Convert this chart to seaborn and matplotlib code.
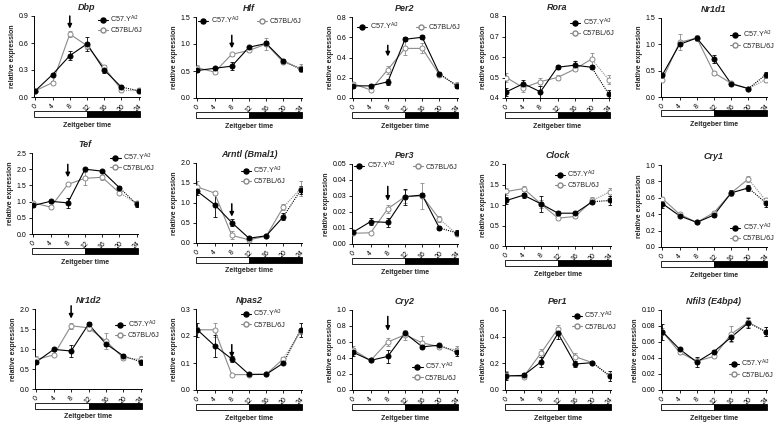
import numpy as np
import pandas as pd
import matplotlib
matplotlib.use("Agg")
import matplotlib.pyplot as plt
from matplotlib.lines import Line2D
from matplotlib.patches import Rectangle
import seaborn as sns

# ---------------- data ----------------
zt_labels = ["0", "4", "8", "12", "16", "20", "24"]
strains = ["C57.Y$^{\\mathregular{A/J}}$", "C57BL/6J"]
genes = ["Dbp", "Hlf", "Per2", "Rora", "Nr1d1",
         "Tef", "Arntl (Bmal1)", "Per3", "Clock", "Cry1",
         "Nr1d2", "Npas2", "Cry2", "Per1", "Nfil3 (E4bp4)"]

dbp_y = [0.07, 0.25, 0.46, 0.59, 0.30, 0.11, 0.07]
dbp_y_err = [0.01, 0.02, 0.05, 0.08, 0.03, 0.02, 0.01]
dbp_b = [0.07, 0.16, 0.70, 0.57, 0.33, 0.08, 0.08]
dbp_b_err = [0.01, 0.02, 0.03, 0.04, 0.03, 0.02, 0.02]

hlf_y = [0.51, 0.55, 0.59, 0.94, 1.01, 0.69, 0.53]
hlf_y_err = [0.03, 0.03, 0.08, 0.03, 0.05, 0.03, 0.03]
hlf_b = [0.56, 0.48, 0.81, 0.88, 1.00, 0.66, 0.56]
hlf_b_err = [0.06, 0.03, 0.03, 0.03, 0.12, 0.03, 0.07]

per2_y = [0.12, 0.12, 0.16, 0.58, 0.60, 0.24, 0.12]
per2_y_err = [0.02, 0.02, 0.03, 0.02, 0.02, 0.02, 0.02]
per2_b = [0.14, 0.08, 0.28, 0.49, 0.49, 0.23, 0.13]
per2_b_err = [0.02, 0.02, 0.04, 0.07, 0.05, 0.02, 0.03]

rora_y = [0.43, 0.47, 0.43, 0.55, 0.56, 0.55, 0.42]
rora_y_err = [0.02, 0.02, 0.03, 0.01, 0.02, 0.01, 0.02]
rora_b = [0.50, 0.45, 0.48, 0.50, 0.54, 0.59, 0.49]
rora_b_err = [0.02, 0.02, 0.02, 0.01, 0.01, 0.03, 0.02]

nr1d1_y = [0.42, 1.00, 1.12, 0.72, 0.25, 0.16, 0.42]
nr1d1_y_err = [0.04, 0.04, 0.04, 0.07, 0.02, 0.01, 0.05]
nr1d1_b = [0.33, 1.04, 1.12, 0.46, 0.26, 0.16, 0.33]
nr1d1_b_err = [0.02, 0.15, 0.05, 0.04, 0.02, 0.01, 0.04]

tef_y = [0.88, 1.01, 0.96, 2.00, 1.94, 1.43, 0.92]
tef_y_err = [0.05, 0.04, 0.15, 0.04, 0.04, 0.05, 0.10]
tef_b = [0.96, 0.83, 1.53, 1.72, 1.75, 1.27, 0.95]
tef_b_err = [0.04, 0.05, 0.04, 0.20, 0.08, 0.05, 0.05]

arntl_y = [1.29, 0.96, 0.51, 0.12, 0.18, 0.66, 1.32]
arntl_y_err = [0.08, 0.30, 0.08, 0.03, 0.03, 0.08, 0.10]
arntl_b = [1.40, 1.25, 0.19, 0.08, 0.17, 0.90, 1.36]
arntl_b_err = [0.15, 0.05, 0.10, 0.02, 0.03, 0.08, 0.18]

per3_y = [0.0075, 0.014, 0.0135, 0.0296, 0.0306, 0.010, 0.007]
per3_y_err = [0.001, 0.002, 0.003, 0.005, 0.001, 0.001, 0.0015]
per3_b = [0.0067, 0.007, 0.022, 0.0296, 0.030, 0.0156, 0.0063]
per3_b_err = [0.0005, 0.0005, 0.0025, 0.004, 0.008, 0.002, 0.001]

clock_y = [1.11, 1.24, 1.03, 0.80, 0.80, 1.08, 1.11]
clock_y_err = [0.08, 0.06, 0.20, 0.05, 0.05, 0.04, 0.10]
clock_b = [1.33, 1.40, 1.03, 0.68, 0.72, 1.11, 1.32]
clock_b_err = [0.08, 0.07, 0.10, 0.02, 0.03, 0.08, 0.09]

cry1_y = [0.53, 0.38, 0.30, 0.39, 0.66, 0.72, 0.54]
cry1_y_err = [0.05, 0.02, 0.01, 0.02, 0.03, 0.04, 0.05]
cry1_b = [0.59, 0.40, 0.30, 0.42, 0.66, 0.83, 0.57]
cry1_b_err = [0.02, 0.02, 0.01, 0.02, 0.04, 0.04, 0.03]

nr1d2_y = [0.68, 0.99, 0.95, 1.62, 1.13, 0.83, 0.68]
nr1d2_y_err = [0.06, 0.03, 0.15, 0.05, 0.05, 0.05, 0.07]
nr1d2_b = [0.74, 0.85, 1.58, 1.53, 1.20, 0.78, 0.74]
nr1d2_b_err = [0.08, 0.03, 0.08, 0.08, 0.20, 0.05, 0.08]

npas2_y = [0.223, 0.164, 0.115, 0.058, 0.058, 0.100, 0.223]
npas2_y_err = [0.025, 0.040, 0.010, 0.004, 0.004, 0.005, 0.025]
npas2_b = [0.223, 0.223, 0.057, 0.057, 0.058, 0.116, 0.217]
npas2_b_err = [0.010, 0.025, 0.003, 0.003, 0.004, 0.005, 0.010]

cry2_y = [0.47, 0.37, 0.42, 0.71, 0.54, 0.56, 0.47]
cry2_y_err = [0.05, 0.02, 0.08, 0.03, 0.02, 0.02, 0.05]
cry2_b = [0.50, 0.37, 0.60, 0.69, 0.59, 0.54, 0.50]
cry2_b_err = [0.05, 0.02, 0.05, 0.06, 0.08, 0.03, 0.05]

per1_y = [0.105, 0.110, 0.210, 0.425, 0.195, 0.205, 0.105]
per1_y_err = [0.03, 0.02, 0.04, 0.04, 0.02, 0.01, 0.035]
per1_b = [0.110, 0.100, 0.275, 0.460, 0.250, 0.205, 0.110]
per1_b_err = [0.03, 0.01, 0.03, 0.03, 0.03, 0.01, 0.02]

nfil3_y = [0.073, 0.051, 0.035, 0.048, 0.066, 0.084, 0.073]
nfil3_y_err = [0.010, 0.002, 0.006, 0.002, 0.005, 0.006, 0.006]
nfil3_b = [0.073, 0.047, 0.036, 0.042, 0.070, 0.085, 0.073]
nfil3_b_err = [0.004, 0.002, 0.004, 0.002, 0.010, 0.006, 0.006]

values = {
    "Dbp": (dbp_y, dbp_y_err, dbp_b, dbp_b_err),
    "Hlf": (hlf_y, hlf_y_err, hlf_b, hlf_b_err),
    "Per2": (per2_y, per2_y_err, per2_b, per2_b_err),
    "Rora": (rora_y, rora_y_err, rora_b, rora_b_err),
    "Nr1d1": (nr1d1_y, nr1d1_y_err, nr1d1_b, nr1d1_b_err),
    "Tef": (tef_y, tef_y_err, tef_b, tef_b_err),
    "Arntl (Bmal1)": (arntl_y, arntl_y_err, arntl_b, arntl_b_err),
    "Per3": (per3_y, per3_y_err, per3_b, per3_b_err),
    "Clock": (clock_y, clock_y_err, clock_b, clock_b_err),
    "Cry1": (cry1_y, cry1_y_err, cry1_b, cry1_b_err),
    "Nr1d2": (nr1d2_y, nr1d2_y_err, nr1d2_b, nr1d2_b_err),
    "Npas2": (npas2_y, npas2_y_err, npas2_b, npas2_b_err),
    "Cry2": (cry2_y, cry2_y_err, cry2_b, cry2_b_err),
    "Per1": (per1_y, per1_y_err, per1_b, per1_b_err),
    "Nfil3 (E4bp4)": (nfil3_y, nfil3_y_err, nfil3_b, nfil3_b_err),
}

# y-axis ticks (start, stop, step, decimals)
yticks = {
    "Dbp": (0.0, 0.9, 0.3, 1), "Hlf": (0.0, 1.5, 0.5, 1), "Per2": (0.0, 0.8, 0.2, 1),
    "Rora": (0.4, 0.8, 0.1, 1), "Nr1d1": (0.0, 1.5, 0.5, 1),
    "Tef": (0.0, 2.5, 0.5, 1), "Arntl (Bmal1)": (0.0, 2.0, 0.5, 1), "Per3": (0.0, 0.05, 0.01, 2),
    "Clock": (0.0, 2.0, 0.5, 1), "Cry1": (0.0, 1.0, 0.2, 1),
    "Nr1d2": (0.0, 2.0, 0.5, 1), "Npas2": (0.0, 0.3, 0.1, 1), "Cry2": (0.0, 1.0, 0.2, 1),
    "Per1": (0.0, 0.6, 0.2, 1), "Nfil3 (E4bp4)": (0.0, 0.10, 0.02, 2),
}

# ---------------- layout / style ----------------
W, H = 778, 424
# axes boxes in pixels: left, top, right, bottom
boxes = {
    "Dbp": (34, 16, 140, 97), "Hlf": (196, 17, 302, 98), "Per2": (352, 17, 458, 98),
    "Rora": (505, 16, 610, 98), "Nr1d1": (661, 18, 767, 97),
    "Tef": (32, 153, 138, 234), "Arntl (Bmal1)": (196, 163, 302, 243), "Per3": (352, 164, 458, 244),
    "Clock": (505, 164, 611, 246), "Cry1": (661, 165, 767, 247),
    "Nr1d2": (35, 309, 142, 389), "Npas2": (196, 309, 302, 390), "Cry2": (352, 310, 458, 390),
    "Per1": (505, 310, 611, 390), "Nfil3 (E4bp4)": (661, 310, 767, 390),
}
# legend anchor (axes fraction x, y of upper left) and number of columns
legend_pos = {
    "Dbp": (0.60, 1.03, 1), "Hlf": (0.02, 1.03, 2), "Per2": (0.05, 0.96, 2),
    "Rora": (0.62, 0.99, 1), "Nr1d1": (0.65, 0.86, 1),
    "Tef": (0.74, 1.02, 1), "Arntl (Bmal1)": (0.42, 0.98, 1), "Per3": (0.02, 1.05, 2),
    "Clock": (0.47, 0.94, 1), "Cry1": (0.65, 0.31, 1),
    "Nr1d2": (0.75, 0.88, 1), "Npas2": (0.42, 1.01, 1), "Cry2": (0.57, 0.36, 1),
    "Per1": (0.63, 1.00, 1), "Nfil3 (E4bp4)": (0.64, 0.40, 1),
}
# arrows at ZT8 (tail y, tip y) in data units
arrows = {
    "Dbp": (0.90, 0.76), "Hlf": (1.16, 0.92), "Per2": (0.52, 0.41),
    "Tef": (2.15, 1.75), "Arntl (Bmal1)": (0.98, 0.66), "Per3": (0.036, 0.027),
    "Nr1d2": (2.08, 1.76), "Npas2": (0.168, 0.120), "Cry2": (0.92, 0.74),
}

sns.set_theme(style="ticks")
plt.rcParams["font.family"] = ["Liberation Sans", "DejaVu Sans"]
plt.rcParams["mathtext.fontset"] = "custom"
plt.rcParams["mathtext.rm"] = "Liberation Sans"

COL_Y = "black"
COL_B = "#8a8a8a"
MS = 3.6

fig = plt.figure(figsize=(W / 100, H / 100), dpi=100)
fig.patch.set_facecolor("white")

pos = np.arange(len(zt_labels))

for gene in genes:
    l, t, r, b = boxes[gene]
    ax = fig.add_axes([l / W, 1 - b / H, (r - l) / W, (b - t) / H])
    ax.set_facecolor("white")
    yv, ye, bv, be = values[gene]
    df = pd.DataFrame({
        "pos": np.concatenate([pos, pos]),
        "value": np.concatenate([bv, yv]),
        "err": np.concatenate([be, ye]),
        "strain": [strains[1]] * len(pos) + [strains[0]] * len(pos),
    })
    for strain, col, face in [(strains[1], COL_B, "white"), (strains[0], COL_Y, COL_Y)]:
        d = df[df["strain"] == strain]
        ax.errorbar(d["pos"], d["value"], yerr=d["err"], fmt="none", ecolor=col,
                    elinewidth=0.6, capsize=1.6, capthick=0.6, zorder=2)
        sns.lineplot(data=d.iloc[:6], x="pos", y="value", color=col, lw=0.8,
                     errorbar=None, ax=ax, zorder=3, legend=False)
        sns.lineplot(data=d.iloc[5:], x="pos", y="value", color=col, lw=0.8,
                     linestyle=(0, (1, 1)), errorbar=None, ax=ax, zorder=3, legend=False)
        sns.scatterplot(data=d, x="pos", y="value", color=face, edgecolor=col,
                        linewidth=0.7, s=MS ** 2, ax=ax, zorder=4, legend=False)

    y0, y1, st, dec = yticks[gene]
    ticks = np.round(np.arange(y0, y1 + st / 2, st), 4)
    ax.set_ylim(y0, y1)
    ax.set_yticks(ticks)
    ax.set_yticklabels([f"{v:.{dec}f}" for v in ticks])
    ax.set_xlim(-0.08, 6.08)
    ax.set_xticks(pos)
    ax.set_xticklabels(zt_labels, rotation=45, ha="center")
    ax.tick_params(axis="both", labelsize=5, length=2.5, width=0.6, pad=1.5, colors="black")
    for s in ["top", "right"]:
        ax.spines[s].set_visible(False)
    for s in ["left", "bottom"]:
        ax.spines[s].set_linewidth(0.7)
        ax.spines[s].set_color("black")
    ax.set_xlabel("")
    ax.set_ylabel("relative expression", fontsize=5, fontweight="bold", labelpad=2)
    ax.set_title(gene, fontsize=6.5, fontweight="bold", fontstyle="italic", pad=4)

    # light/dark bar
    ax.add_patch(Rectangle((0, -0.245), 0.5, 0.075, transform=ax.transAxes, clip_on=False,
                           facecolor="white", edgecolor="black", lw=0.6))
    ax.add_patch(Rectangle((0.5, -0.245), 0.5, 0.075, transform=ax.transAxes, clip_on=False,
                           facecolor="black", edgecolor="black", lw=0.6))
    ax.text(0.5, -0.35, "Zeitgeber time", transform=ax.transAxes, ha="center", va="center",
            fontsize=5, fontweight="bold")

    if gene in arrows:
        ta, tb = arrows[gene]
        ax.annotate("", xy=(2, tb), xytext=(2, ta), annotation_clip=False,
                    arrowprops=dict(arrowstyle="-|>", color="black", lw=1.1,
                                    mutation_scale=6, shrinkA=0, shrinkB=0))

    handles = [
        Line2D([], [], color=COL_Y, lw=0.8, marker="o", ms=MS, mfc=COL_Y, mec=COL_Y),
        Line2D([], [], color=COL_B, lw=0.8, marker="o", ms=MS, mfc="white", mec=COL_B),
    ]
    lx, ly, nc = legend_pos[gene]
    ax.legend(handles, strains, loc="upper left", bbox_to_anchor=(lx, ly), ncol=nc,
              frameon=False, fontsize=5.2, handlelength=1.4, handletextpad=0.35,
              labelspacing=0.3, borderpad=0, borderaxespad=0,
              columnspacing=2.4 if nc > 1 else 1.0)

fig.savefig("out.png", dpi=100, facecolor="white")
